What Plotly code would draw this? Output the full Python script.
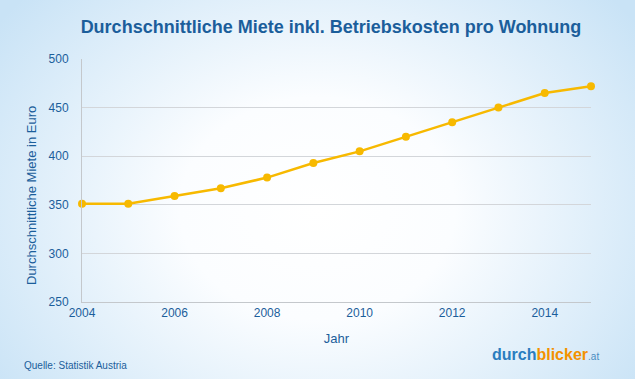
import base64
import plotly.graph_objects as go

years = [2004, 2005, 2006, 2007, 2008, 2009, 2010, 2011, 2012, 2013, 2014, 2015]
miete = [351, 351, 359, 367, 378, 393, 405, 420, 435, 450, 465, 472]
x_ticks = [2004, 2006, 2008, 2010, 2012, 2014]
y_ticks = [250, 300, 350, 400, 450, 500]

W, H = 635, 379
L, R, T, B = 82, 44, 59, 77
pw, ph = W - L - R, H - T - B

svg = f'''<svg xmlns="http://www.w3.org/2000/svg" width="{W}" height="{H}" viewBox="0 0 {W} {H}" preserveAspectRatio="none">
<defs><radialGradient id="g" cx="0.5" cy="0.55" r="0.62" gradientTransform="translate(0.5 0.55) scale(1 1.35) translate(-0.5 -0.55)">
<stop offset="0" stop-color="#ffffff"/><stop offset="0.35" stop-color="#fbfdff"/><stop offset="1" stop-color="#c9e3f6"/></radialGradient></defs>
<rect width="{W}" height="{H}" fill="url(#g)"/></svg>'''
uri = "data:image/svg+xml;base64," + base64.b64encode(svg.encode()).decode()

blue = "#1b5e9b"
fig = go.Figure()
fig.add_trace(go.Scatter(
    x=years, y=miete, mode="lines+markers",
    line=dict(color="#f7b900", width=2.5),
    marker=dict(color="#f7b900", size=8),
    cliponaxis=False, hoverinfo="x+y", showlegend=False))

fig.update_layout(
    width=W, height=H,
    margin=dict(l=L, r=R, t=T, b=B),
    paper_bgcolor="rgba(0,0,0,0)", plot_bgcolor="rgba(0,0,0,0)",
    font=dict(family="Liberation Sans, Arial, sans-serif", color=blue, size=12),
    title=dict(text="<b>Durchschnittliche Miete inkl. Betriebskosten pro Wohnung</b>",
               x=(331 - L) / pw, xref="paper", xanchor="center", y=1 - 27 / H, yanchor="middle",
               font=dict(size=18, color=blue)),
    xaxis=dict(range=[2004, 2015], tickvals=x_ticks, showgrid=False,
               showline=True, linecolor="#c4c8cc", linewidth=1, ticks="",
               zeroline=False, title=dict(text="Jahr", standoff=14, font=dict(size=13)),
               tickfont=dict(size=12, color=blue)),
    yaxis=dict(range=[250, 500], tickvals=y_ticks, showgrid=True, gridcolor="#d3d6da",
               gridwidth=1, showline=True, linecolor="#c4c8cc", linewidth=1,
               zeroline=False, ticks="", ticklabelstandoff=10,
               tickfont=dict(size=12, color=blue)),
    images=[dict(source=uri, xref="paper", yref="paper",
                 x=-L / pw, y=1 + T / ph, sizex=W / pw, sizey=H / ph,
                 xanchor="left", yanchor="top", sizing="stretch", layer="below")],
    annotations=[
        dict(text="Durchschnittliche Miete in Euro", xref="paper", yref="paper",
             x=-(L - 31) / pw, y=1 - (196 - T) / ph, xanchor="center", yanchor="middle",
             textangle=-90, showarrow=False, font=dict(size=13, color=blue)),
        dict(text="Quelle: Statistik Austria", xref="paper", yref="paper",
             x=-(L - 22) / pw, y=-(365 - T - ph) / ph, xanchor="left", yanchor="middle",
             showarrow=False, font=dict(size=10, color=blue)),
        dict(text="<b><span style='color:#2a7dbf'>durch</span><span style='color:#f39200'>blicker</span></b><span style='color:#4a8cc0;font-size:10px'>.at</span>",
             xref="paper", yref="paper",
             x=(601 - L) / pw, y=-(354 - T - ph) / ph, xanchor="right", yanchor="middle",
             showarrow=False, font=dict(size=16, family="Liberation Sans, Arial, sans-serif")),
    ],
)

fig.write_html("out.html", config={"displayModeBar": False},
               post_script="document.body.style.margin='0';document.body.style.padding='0';")
